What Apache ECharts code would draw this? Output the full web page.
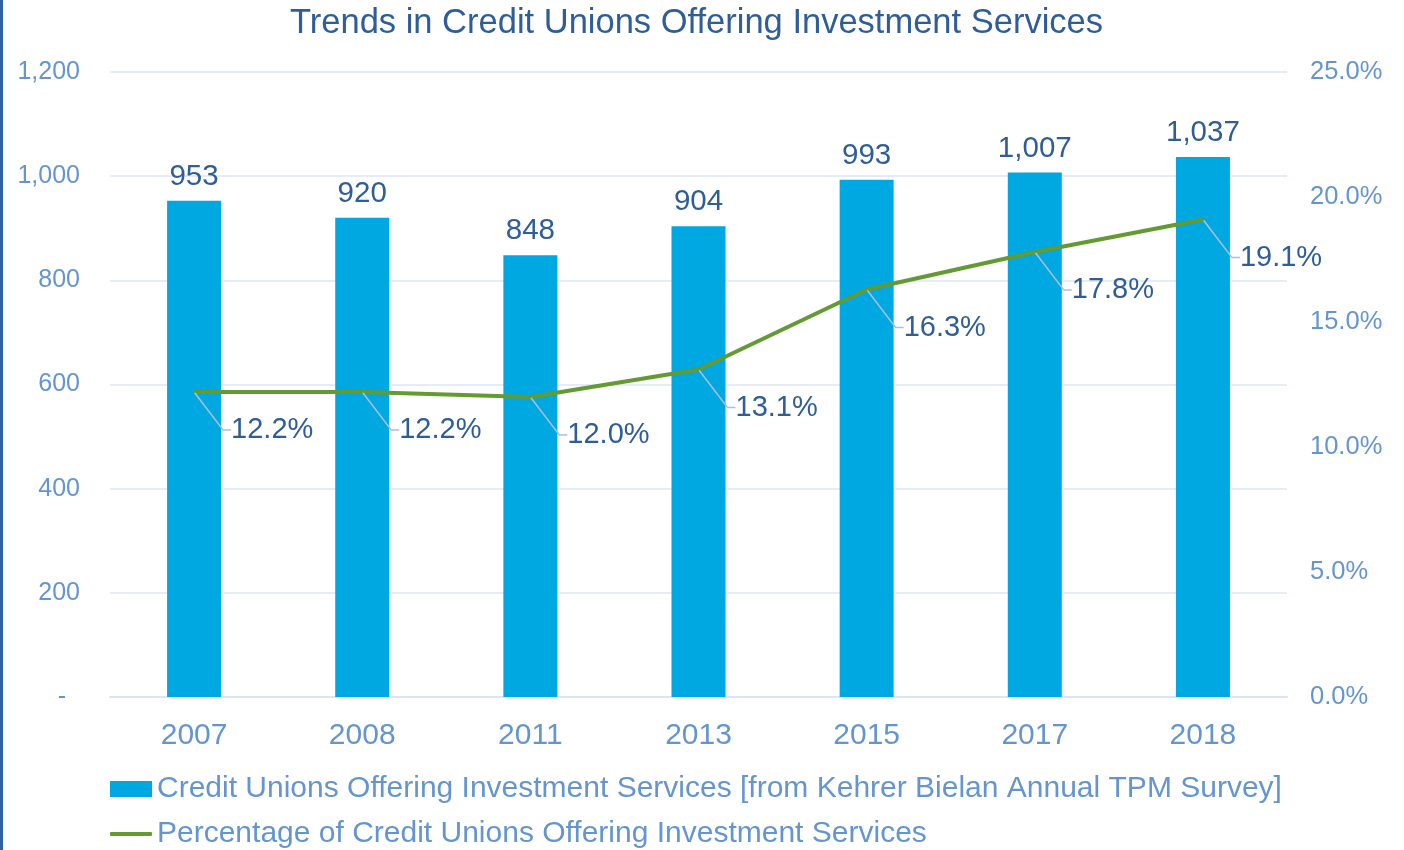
<!DOCTYPE html>
<html>
<head>
<meta charset="utf-8">
<script src="https://cdn.jsdelivr.net/npm/echarts@6/dist/echarts.min.js"></script>
<style>
  html, body { margin: 0; padding: 0; background: #fff; }
  #main { width: 1404px; height: 850px; }
  .edge { position: absolute; left: 0; top: 0; width: 3px; height: 850px; background: #2e62a2; }
</style>
</head>
<body>
<div id="main"></div>
<div class="edge"></div>
<script>
const years = ['2007', '2008', '2011', '2013', '2015', '2017', '2018']
const creditUnions = [953, 920, 848, 904, 993, 1007, 1037]
const percentOffering = [12.2, 12.2, 12.0, 13.1, 16.3, 17.8, 19.1]
const barName = 'Credit Unions Offering Investment Services [from Kehrer Bielan Annual TPM Survey]'
const lineName = 'Percentage of Credit Unions Offering Investment Services'

const font = 'Arial, "Liberation Sans", sans-serif'
const axisBlue = '#6495cf'
const darkBlue = '#2f5d97'

const myChart = echarts.init(document.getElementById('main'))
const option = {
  textStyle: { fontFamily: font },
  title: {
    text: 'Trends in Credit Unions Offering Investment Services',
    left: 285,
    top: 1,
    textStyle: { color: darkBlue, fontSize: 34.5, fontWeight: 'normal', fontFamily: font }
  },
  grid: { left: 110, right: 117, top: 72, bottom: 153, containLabel: false },
  legend: [
    {
      data: [barName],
      left: 105,
      top: 769,
      itemWidth: 42,
      itemHeight: 16,
      itemGap: 0,
      icon: 'rect',
      textStyle: { color: axisBlue, fontSize: 30, padding: [0, 0, 0, 0] }
    },
    {
      data: [lineName],
      left: 105,
      top: 814,
      itemWidth: 42,
      itemHeight: 4,
      icon: 'roundRect',
      textStyle: { color: axisBlue, fontSize: 30, padding: [0, 0, 0, 0] }
    }
  ],
  xAxis: {
    type: 'category',
    data: years,
    axisLine: { lineStyle: { color: '#dce6f2', width: 2 } },
    axisTick: { show: false },
    axisLabel: { color: axisBlue, fontSize: 30, margin: 24 }
  },
  yAxis: [
    {
      type: 'value',
      min: 0,
      max: 1200,
      interval: 200,
      axisLine: { show: false },
      axisTick: { show: false },
      splitLine: { lineStyle: { color: '#dce6f2', width: 1.5 } },
      axisLabel: {
        color: axisBlue,
        fontSize: 25,
        margin: 30,
        padding: [3, 0, 0, 0],
        formatter: v => v === 0 ? '-  ' : v.toLocaleString('en-US')
      }
    },
    {
      type: 'value',
      min: 0,
      max: 25,
      interval: 5,
      axisLine: { show: false },
      axisTick: { show: false },
      splitLine: { show: false },
      axisLabel: {
        color: axisBlue,
        fontSize: 25.5,
        margin: 23,
        padding: [3, 0, 0, 0],
        formatter: v => v.toFixed(1) + '%'
      }
    }
  ],
  series: [
    {
      name: barName,
      type: 'bar',
      data: creditUnions,
      barWidth: 54,
      itemStyle: { color: '#00a8e2' },
      label: {
        show: true,
        position: 'top',
        distance: 9,
        color: darkBlue,
        fontSize: 29.5,
        formatter: p => p.value.toLocaleString('en-US')
      }
    },
    {
      name: lineName,
      type: 'line',
      yAxisIndex: 1,
      data: percentOffering,
      symbol: 'circle',
      symbolSize: 2,
      itemStyle: { color: '#639a34' },
      lineStyle: { color: '#639a34', width: 4 },
      label: {
        show: true,
        position: 'right',
        distance: 36,
        color: darkBlue,
        fontSize: 29,
        formatter: p => p.value.toFixed(1) + '%'
      },
      labelLayout: { dy: 38 },
      labelLine: {
        show: true,
        length2: 8,
        lineStyle: { color: '#a9c0dc', width: 1.5 }
      }
    }
  ]
}
myChart.setOption(option)
</script>
</body>
</html>
